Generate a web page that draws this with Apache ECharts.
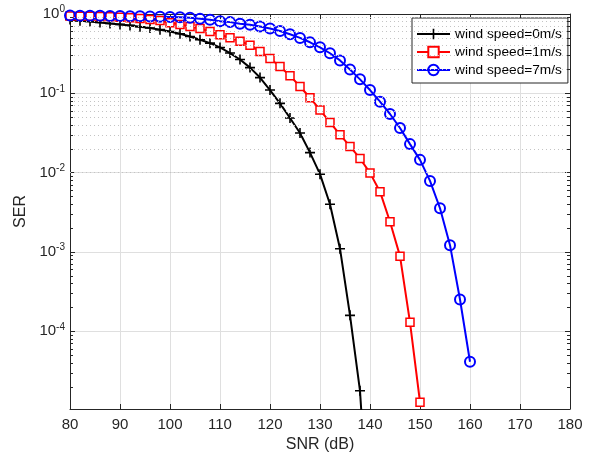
<!DOCTYPE html>
<html><head><meta charset="utf-8">
<script src="https://cdn.jsdelivr.net/npm/echarts@6/dist/echarts.min.js"></script>
<style>html,body{margin:0;padding:0;background:#fff}#c{width:591px;height:461px}</style>
</head><body><div id="c"></div>
<script>
// ---- data ----
const snr0 = [80,82,84,86,88,90,92,94,96,98,100,102,104,106,108,110,112,114,116,118,120,122,124,126,128,130,132,134,136,138,140];
const ser0 = [0.855,0.82,0.805,0.783,0.76,0.739,0.718,0.691,0.665,0.635,0.603,0.563,0.521,0.473,0.429,0.379,0.322,0.267,0.211,0.158,0.11,0.0748,0.0489,0.0316,0.0179,0.00957,0.0040,0.0011,1.59e-4,1.78e-5,2e-7];

const snr1 = [80,82,84,86,88,90,92,94,96,98,100,102,104,106,108,110,112,114,116,118,120,122,124,126,128,130,132,134,136,138,140,142,144,146,148,150];
const ser1 = [0.945,0.94,0.935,0.928,0.92,0.91,0.895,0.878,0.855,0.83,0.775,0.739,0.697,0.658,0.603,0.548,0.502,0.455,0.405,0.337,0.275,0.218,0.167,0.122,0.088,0.0617,0.043,0.0301,0.0214,0.0151,0.00994,0.00576,0.00241,8.87e-4,1.3e-4,1.28e-5];

const snr7 = [80,82,84,86,88,90,92,94,96,98,100,102,104,106,108,110,112,114,116,118,120,122,124,126,128,130,132,134,136,138,140,142,144,146,148,150,152,154,156,158,160];
const ser7 = [0.955,0.953,0.951,0.949,0.946,0.943,0.94,0.936,0.931,0.925,0.918,0.91,0.898,0.872,0.847,0.813,0.79,0.754,0.732,0.697,0.655,0.61,0.555,0.5,0.44,0.38,0.32,0.26,0.2,0.15,0.11,0.0785,0.0549,0.0366,0.0229,0.0145,0.00787,0.00356,0.00122,2.52e-4,4.14e-5];

const seriesNames = ['wind speed=0m/s','wind speed=1m/s','wind speed=7m/s'];
const xTicks = [80,90,100,110,120,130,140,150,160,170,180];
const yMin = 1.05e-5, yMax = 1;

// ---- helpers ----
const zip = (xs, ys) => xs.map((x, i) => [x, ys[i]]);
const axisColor = '#262626';
const FONT = 'Liberation Sans, Arial, sans-serif';

const minorVals = [];
for (let e = -5; e < 0; e++) {
  for (let k = 2; k <= 9; k++) {
    const v = k * Math.pow(10, e);
    if (v > yMin && v < yMax) minorVals.push(v);
  }
}
const minorGrid = minorVals.map(v => ({ yAxis: v }));
const minorTicks = [];
minorVals.forEach(v => {
  minorTicks.push([{ coord: [80, v] }, { coord: [80.6, v] }]);
  minorTicks.push([{ coord: [180, v] }, { coord: [179.4, v] }]);
});

const plusPath = 'path://M4.2,0 H5.8 V4.2 H10 V5.8 H5.8 V10 H4.2 V5.8 H0 V4.2 H4.2 Z';

const chart = echarts.init(document.getElementById('c'), null, { renderer: 'canvas' });
chart.setOption({
  animation: false,
  backgroundColor: '#fff',
  textStyle: { fontFamily: FONT },
  grid: { left: 70, right: 21, top: 14, bottom: 52, containLabel: false },
  legend: {
    orient: 'vertical',
    left: 412, top: 18,
    data: seriesNames,
    backgroundColor: '#fff',
    borderColor: axisColor, borderWidth: 1,
    padding: [9, 6, 6, 4],
    itemWidth: 33, itemHeight: 13, itemGap: 4,
    textStyle: { fontSize: 13.7, color: '#000', fontFamily: FONT, padding: [0, 0, 0, 0] },
    selectedMode: false
  },
  xAxis: [{
    type: 'value', min: 80, max: 180, interval: 10,
    name: 'SNR (dB)', nameLocation: 'middle', nameGap: 19,
    nameTextStyle: { fontSize: 16, color: axisColor, fontFamily: FONT },
    axisLine: { show: true, onZero: false, lineStyle: { color: axisColor, width: 1 } },
    axisTick: { show: true, inside: true, length: 5, lineStyle: { color: axisColor } },
    axisLabel: { fontSize: 15, color: axisColor, margin: 8, fontFamily: FONT, customValues: xTicks },
    splitLine: { show: true, lineStyle: { color: '#dfdfdf', width: 1 } }
  }, {
    type: 'value', min: 80, max: 180, interval: 10, position: 'top',
    axisLine: { show: true, onZero: false, lineStyle: { color: axisColor, width: 1 } },
    axisTick: { show: true, inside: true, length: 5, lineStyle: { color: axisColor } },
    axisLabel: { show: false }, splitLine: { show: false }
  }],
  yAxis: [{
    type: 'log', logBase: 10, min: yMin, max: yMax,
    name: 'SER', nameLocation: 'middle', nameGap: 38,
    nameTextStyle: { fontSize: 16, color: axisColor, fontFamily: FONT },
    axisLine: { show: true, onZero: false, lineStyle: { color: axisColor, width: 1 } },
    axisTick: { show: true, inside: true, length: 5, lineStyle: { color: axisColor } },
    axisLabel: {
      margin: 5, color: axisColor,
      formatter: function (v) {
        const l = Math.log10(v), e = Math.round(l);
        if (Math.abs(l - e) > 1e-6) return '';
        return '{b|10}{s|' + e + '}';
      },
      rich: {
        b: { fontSize: 15, color: axisColor, fontFamily: FONT, lineHeight: 15, verticalAlign: 'bottom' },
        s: { fontSize: 10, color: axisColor, fontFamily: FONT, lineHeight: 10, padding: [0, 0, 7, 0], verticalAlign: 'bottom' }
      }
    },
    splitLine: { show: true, lineStyle: { color: '#dfdfdf', width: 1 } }
  }, {
    type: 'log', logBase: 10, min: yMin, max: yMax, position: 'right',
    axisLine: { show: true, onZero: false, lineStyle: { color: axisColor, width: 1 } },
    axisTick: { show: true, inside: true, length: 5, lineStyle: { color: axisColor } },
    axisLabel: { show: false }, splitLine: { show: false }
  }],
  series: [
    {
      name: '_grid', type: 'line', data: [], z: 1, silent: true,
      markLine: {
        silent: true, symbol: ['none', 'none'], animation: false,
        label: { show: false },
        lineStyle: { color: '#c4c4c4', type: [1, 3], width: 1 },
        data: minorGrid
      }
    },
    {
      name: '_ticks', type: 'line', data: [], z: 5, silent: true,
      markLine: {
        silent: true, symbol: ['none', 'none'], animation: false,
        label: { show: false },
        lineStyle: { color: axisColor, type: 'solid', width: 1 },
        data: minorTicks
      }
    },
    {
      name: seriesNames[0], type: 'line', data: zip(snr0, ser0), z: 3,
      symbol: plusPath, symbolSize: 10, showAllSymbol: true,
      lineStyle: { color: '#000', width: 2 },
      itemStyle: { color: '#000', borderWidth: 0 },
      clip: true
    },
    {
      name: seriesNames[1], type: 'line', data: zip(snr1, ser1), z: 3,
      symbol: 'rect', symbolSize: 8, showAllSymbol: true,
      lineStyle: { color: '#ff0000', width: 2 },
      itemStyle: { color: '#fff', borderColor: '#ff0000', borderWidth: 1.5 },
      clip: true
    },
    {
      name: seriesNames[2], type: 'line', data: zip(snr7, ser7), z: 3,
      symbol: 'circle', symbolSize: 10, showAllSymbol: true,
      lineStyle: { color: '#0000ff', width: 2 },
      itemStyle: { color: 'rgba(255,255,255,0)', borderColor: '#0000ff', borderWidth: 2 },
      clip: true
    }
  ]
});
</script>
</body></html>
